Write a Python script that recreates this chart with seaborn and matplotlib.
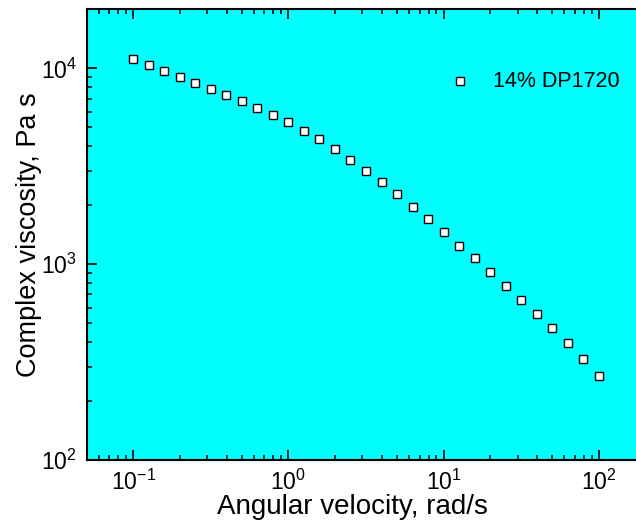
import numpy as np
import pandas as pd
import matplotlib
matplotlib.use("Agg")
import matplotlib.pyplot as plt
import seaborn as sns
from matplotlib.ticker import LogLocator, NullFormatter

# ---- data ----
angular_velocity = [0.1, 0.1259, 0.1585, 0.1995, 0.2512, 0.3162, 0.3981, 0.5012, 0.631, 0.7943,
                    1.0, 1.259, 1.585, 1.995, 2.512, 3.162, 3.981, 5.012, 6.31, 7.943,
                    10.0, 12.59, 15.85, 19.95, 25.12, 31.62, 39.81, 50.12, 63.1, 79.43, 100.0]
complex_viscosity = [11190, 10430, 9690, 9030, 8420, 7870, 7340, 6810, 6300, 5800,
                     5300, 4810, 4330, 3850, 3400, 2995, 2620, 2273, 1966, 1692,
                     1452, 1241, 1073, 907, 775, 658, 558, 470, 395, 329, 269]
series_label = "14% DP1720"
x_label = "Angular velocity, rad/s"
y_label = "Complex viscosity, Pa s"

df = pd.DataFrame({"w": angular_velocity, "eta": complex_viscosity, "sample": series_label})

sns.set_style("ticks")
plt.rcParams["font.family"] = ["Liberation Sans", "DejaVu Sans"]
plt.rcParams["mathtext.fontset"] = "custom"
plt.rcParams["mathtext.rm"] = "Liberation Sans"
plt.rcParams["mathtext.it"] = "Liberation Sans:italic"
plt.rcParams["text.color"] = "black"
plt.rcParams["axes.labelcolor"] = "black"
plt.rcParams["xtick.color"] = "black"
plt.rcParams["ytick.color"] = "black"

fig = plt.figure(figsize=(6.36, 5.25), dpi=100)
ax = fig.add_axes([86.6 / 636, 1 - 460 / 525, 558.8 / 636, 450.65 / 525])
ax.set_facecolor("#00FFFF")

sns.scatterplot(data=df, x="w", y="eta", marker="s", s=36, color="white",
                edgecolor="black", linewidth=1.0, label=series_label, ax=ax, zorder=3)

ax.set_xscale("log")
ax.set_yscale("log")
ax.set_xlim(0.05, 200)
ax.set_ylim(100, 20000)

ax.xaxis.set_minor_locator(LogLocator(base=10, subs="auto"))
ax.yaxis.set_minor_locator(LogLocator(base=10, subs="auto"))
ax.xaxis.set_minor_formatter(NullFormatter())
ax.yaxis.set_minor_formatter(NullFormatter())

ax.tick_params(which="both", direction="in", top=True, right=False, colors="black")
ax.tick_params(which="major", length=7, width=1.2, labelsize=16.5, pad=7)
ax.tick_params(which="minor", length=3.6, width=1.1)

for side in ["left", "bottom", "top"]:
    ax.spines[side].set_linewidth(1.5)
    ax.spines[side].set_color("black")
ax.spines["right"].set_visible(False)

ax.set_xlabel(x_label, fontsize=20, labelpad=0, color="black")
ax.xaxis.set_label_coords(0.475, -0.075, transform=ax.transAxes)
ax.set_ylabel(y_label, fontsize=19.5, labelpad=-1, color="black")

leg = ax.legend(loc="center left", bbox_to_anchor=(0.6494, 0.841), frameon=False,
                fontsize=15.5, handlelength=1.0, handletextpad=1.0, borderpad=0,
                borderaxespad=0, markerscale=1.0)
for t in leg.get_texts():
    t.set_color("black")

fig.savefig("out.png", dpi=100, facecolor="white")
